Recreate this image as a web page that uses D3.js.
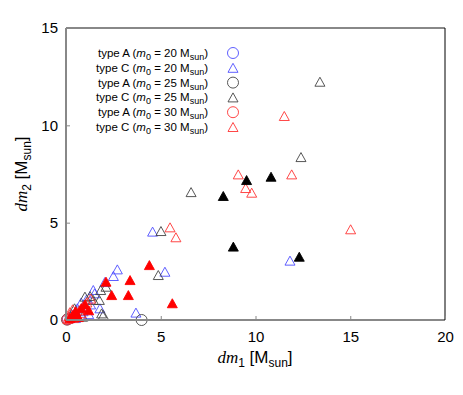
<!DOCTYPE html>
<html>
<head>
<meta charset="utf-8">
<script src="https://cdn.jsdelivr.net/npm/d3@7"></script>
<style>
  body { margin: 0; background: #fff; }
  text { font-family: "Liberation Sans", Arial, sans-serif; }
</style>
</head>
<body>
<div id="chart"></div>
<script>
// values, [dm1, dm2] in M_sun
var xTicks = [0, 5, 10, 15, 20];
var yTicks = [0, 5, 10, 15];

var typeA20 = [[0.1, 0.05], [0.25, 0.1]];
var typeC20 = [[4.57, 4.54], [11.82, 3.05], [5.22, 2.48], [2.71, 2.6], [2.5, 2.26], [3.69, 0.38],
  [1.79, 0.6], [1.51, 1.37], [1.09, 1.06], [1.44, 1.54], [0.3, 0.3], [0.6, 0.6], [0.9, 0.45],
  [1.2, 0.3], [0.5, 0.1], [0.8, 0.9], [2.05, 1.95], [1.3, 0.8]];
var typeA25 = [[3.99, 0.0], [0.05, 0.02]];
var typeC25 = [[13.4, 12.24], [12.4, 8.37], [6.6, 6.57], [5.01, 4.57], [4.87, 2.31], [2.11, 1.71],
  [1.83, 1.54], [1.97, 0.26], [1.76, 1.03], [1.27, 1.23], [1.44, 1.03], [1.88, 0.34], [0.88, 0.17],
  [1.0, 1.2], [0.45, 0.6]];
var typeA30 = [[0.08, 0.03]];
var typeC30 = [[9.09, 7.48], [9.48, 6.78], [9.8, 6.54], [11.91, 7.48], [11.52, 10.48], [15.02, 4.66],
  [5.49, 4.76], [5.8, 4.25], [0.1, 0.05], [0.3, 0.15], [0.5, 0.3], [0.2, 0.4], [0.7, 0.5],
  [0.9, 0.7], [1.1, 0.9], [0.4, 0.1], [0.6, 0.2], [0.15, 0.2], [1.3, 1.1], [0.8, 0.35], [0.35, 0.55]];
var filled25 = [[8.3, 6.37], [9.53, 7.19], [10.82, 7.36], [8.83, 3.77], [12.31, 3.25]];
var filled30 = [[4.4, 2.82], [3.38, 2.05], [2.11, 1.97], [2.41, 1.28], [3.29, 1.28], [5.61, 0.86],
  [0.2, 0.1], [0.5, 0.45], [0.8, 0.6], [1.0, 0.8], [0.35, 0.25], [0.65, 0.15], [1.2, 0.5]];

var legendMass = ["20", "20", "25", "25", "30", "30"];
var legendType = ["A", "C", "A", "C", "A", "C"];

var W = 463, H = 395;
var svg = d3.select("#chart").append("svg").attr("width", W).attr("height", H);

var x = d3.scaleLinear().domain([0, 20]).range([66, 445]);
var y = d3.scaleLinear().domain([0, 15]).range([320, 28]);

var tri = "M0,-4.5L5,4.5L-5,4.5Z";

function drawSeries(data, shape, color, fill) {
  var g = svg.append("g");
  if (shape === "circle") {
    g.selectAll("circle").data(data).enter().append("circle")
      .attr("cx", function (d) { return x(d[0]); })
      .attr("cy", function (d) { return y(d[1]); })
      .attr("r", 5.5)
      .attr("fill", "none").attr("stroke", color).attr("stroke-width", 0.9);
  } else {
    g.selectAll("path").data(data).enter().append("path")
      .attr("d", tri)
      .attr("transform", function (d) { return "translate(" + x(d[0]) + "," + y(d[1]) + ")"; })
      .attr("fill", fill ? color : "none")
      .attr("stroke", color).attr("stroke-width", 0.9);
  }
}

var blue = "#4d4dff", grey = "#444", red = "#ff3333";
var series = [
  [typeA20, "circle", blue], [typeC20, "tri", blue],
  [typeA25, "circle", grey], [typeC25, "tri", grey],
  [typeA30, "circle", red], [typeC30, "tri", red]
];
series.forEach(function (s) { drawSeries(s[0], s[1], s[2], false); });
drawSeries(filled30, "tri", "#ff0000", true);
drawSeries(filled25, "tri", "#000", true);

// frame
svg.append("line").attr("x1", 66).attr("x2", 66).attr("y1", 28).attr("y2", 320)
  .attr("stroke", "#888").attr("stroke-width", 2);
svg.append("line").attr("x1", 66).attr("x2", 445).attr("y1", 320).attr("y2", 320)
  .attr("stroke", "#888").attr("stroke-width", 2);
svg.append("line").attr("x1", 66).attr("x2", 445).attr("y1", 28).attr("y2", 28)
  .attr("stroke", "#888").attr("stroke-width", 2);
svg.append("line").attr("x1", 445).attr("x2", 445).attr("y1", 28).attr("y2", 320)
  .attr("stroke", "#000").attr("stroke-width", 1);

// axes
var xAxis = d3.axisBottom(x).tickValues(xTicks).tickSizeInner(-4).tickSizeOuter(0).tickPadding(8);
var gx = svg.append("g").attr("transform", "translate(0,320)").call(xAxis);
var yAxis = d3.axisLeft(y).tickValues(yTicks).tickSizeInner(-4).tickSizeOuter(0).tickPadding(8);
var gy = svg.append("g").attr("transform", "translate(66,0)").call(yAxis);
[gx, gy].forEach(function (g) {
  g.select(".domain").remove();
  g.selectAll(".tick line").attr("stroke", "#888");
  g.selectAll(".tick text").attr("fill", "#000").style("font-size", "15px")
    .style("font-family", "'Liberation Sans', Arial, sans-serif");
});
gx.selectAll(".tick text").attr("dy", "0.9em");

// axis titles
function axisTitle(sel, sub) {
  sel.append("tspan").text("dm").style("font-family", "'Liberation Serif', serif").style("font-style", "italic");
  sel.append("tspan").text(sub).attr("dy", 4).style("font-size", "12px");
  sel.append("tspan").text(" [M").attr("dy", -4);
  sel.append("tspan").text("sun").attr("dy", 4).style("font-size", "12px");
  sel.append("tspan").text("]").attr("dy", -4);
}
var xt = svg.append("text").attr("x", 255).attr("y", 363).attr("text-anchor", "middle")
  .style("font-size", "17px");
axisTitle(xt, "1");
var yt = svg.append("text").attr("transform", "translate(27,174) rotate(-90)")
  .attr("text-anchor", "middle").style("font-size", "17px");
axisTitle(yt, "2");

// legend
var legendY = d3.scaleLinear().domain([0, 5]).range([53, 127]);
legendType.forEach(function (t, i) {
  var ly = legendY(i);
  var txt = svg.append("text").attr("x", 208).attr("y", ly + 4).attr("text-anchor", "end")
    .style("font-size", "11.5px");
  txt.append("tspan").text("type " + t + " (");
  txt.append("tspan").text("m").style("font-style", "italic");
  txt.append("tspan").text("0").attr("dy", 3).style("font-size", "9px");
  txt.append("tspan").text(" = " + legendMass[i] + " M").attr("dy", -3);
  txt.append("tspan").text("sun").attr("dy", 3).style("font-size", "9px");
  txt.append("tspan").text(")").attr("dy", -3);
  var s = series[i];
  if (s[1] === "circle") {
    svg.append("circle").attr("cx", 233).attr("cy", ly).attr("r", 5.5)
      .attr("fill", "none").attr("stroke", s[2]).attr("stroke-width", 0.9);
  } else {
    svg.append("path").attr("d", tri).attr("transform", "translate(233," + ly + ")")
      .attr("fill", "none").attr("stroke", s[2]).attr("stroke-width", 0.9);
  }
});
</script>
</body>
</html>
